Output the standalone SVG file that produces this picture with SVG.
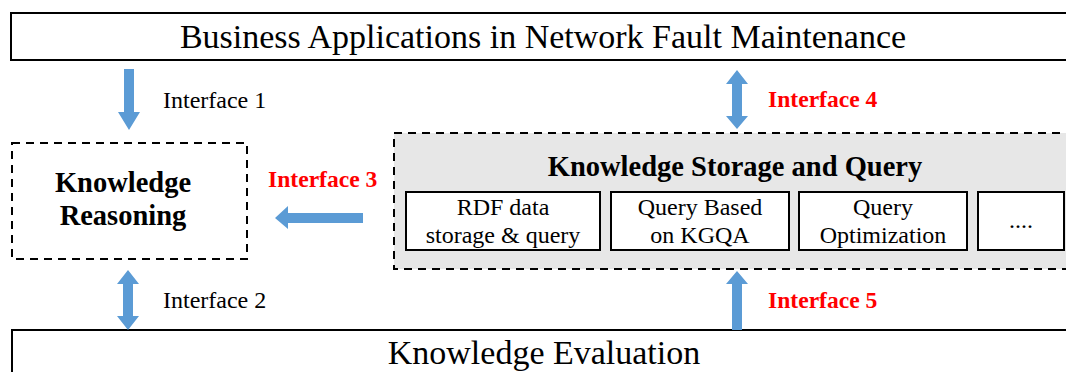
<svg xmlns="http://www.w3.org/2000/svg" width="1066" height="372" viewBox="0 0 1066 372" font-family="'Liberation Serif', 'Times New Roman', Tinos, 'DejaVu Serif', serif">
  <style>
    .layer { fill: #ffffff; stroke: #000000; stroke-width: 2; }
    .dashed { stroke: #000000; stroke-width: 2; stroke-dasharray: 8 6; }
    .sub { fill: #ffffff; stroke: #000000; stroke-width: 2; }
    .arrow { fill: #5b9bd5; stroke: none; }
    .big { font-size: 34px; text-anchor: middle; fill: #000000; }
    .bold-title { font-size: 28.5px; font-weight: bold; text-anchor: middle; fill: #000000; }
    .item { font-size: 24px; text-anchor: middle; fill: #000000; }
    .iface { font-size: 24px; fill: #000000; }
    .iface-red { font-size: 23.6px; font-weight: bold; fill: #ff0000; }
  </style>

  <!-- top layer: business applications -->
  <g id="business-applications">
    <rect class="layer" x="11" y="13" width="1070" height="47"/>
    <text class="big" x="543" y="48">Business Applications in Network Fault Maintenance</text>
  </g>

  <!-- reasoning module -->
  <g id="knowledge-reasoning">
    <rect class="dashed" fill="#ffffff" x="12" y="143" width="235" height="116"/>
    <text class="bold-title" x="123" y="192">Knowledge</text>
    <text class="bold-title" x="123" y="225">Reasoning</text>
  </g>

  <!-- storage and query module with its sub-components -->
  <g id="knowledge-storage-query">
    <rect class="dashed" fill="#e7e7e7" x="394" y="133" width="690" height="136"/>
    <text class="bold-title" x="735" y="176">Knowledge Storage and Query</text>
    <g id="rdf-storage">
      <rect class="sub" x="406" y="192" width="194" height="58"/>
      <text class="item" x="503" y="215">RDF data</text>
      <text class="item" x="503" y="243">storage &amp; query</text>
    </g>
    <g id="kgqa-query">
      <rect class="sub" x="611" y="192" width="178" height="58"/>
      <text class="item" x="700" y="215">Query Based</text>
      <text class="item" x="700" y="243">on KGQA</text>
    </g>
    <g id="query-optimization">
      <rect class="sub" x="799" y="192" width="168" height="58"/>
      <text class="item" x="883" y="215">Query</text>
      <text class="item" x="883" y="243">Optimization</text>
    </g>
    <g id="more-items">
      <rect class="sub" x="978" y="192" width="86" height="58"/>
      <text class="item" x="1021" y="228">....</text>
    </g>
  </g>

  <!-- bottom layer: evaluation -->
  <g id="knowledge-evaluation">
    <rect class="layer" x="12" y="330" width="1070" height="60"/>
    <text class="big" x="544" y="364">Knowledge Evaluation</text>
  </g>

  <!-- interface arrows -->
  <g id="connectors">
    <!-- Interface 1: applications down to reasoning -->
    <polygon class="arrow" points="124,69 134,69 134,112 140,112 129,130 118,112 124,112"/>
    <!-- Interface 2: reasoning <-> evaluation -->
    <polygon class="arrow" points="128,270 139,284 133,284 133,316 139,316 128,330 117,316 123,316 123,284 117,284"/>
    <!-- Interface 3: storage/query left to reasoning -->
    <polygon class="arrow" points="363,213 363,223 288,223 288,229 275,218 288,206 288,213"/>
    <!-- Interface 4: applications <-> storage/query -->
    <polygon class="arrow" points="737,70 748,84 742,84 742,116 748,116 737,129 726,116 732,116 732,84 726,84"/>
    <!-- Interface 5: evaluation up to storage/query -->
    <polygon class="arrow" points="737,271 748,284 742,284 742,330 732,330 732,284 726,284"/>
  </g>

  <g id="labels">
    <text class="iface" x="163" y="108">Interface 1</text>
    <text class="iface" x="163" y="308">Interface 2</text>
    <text class="iface-red" x="268" y="187">Interface 3</text>
    <text class="iface-red" x="768" y="107">Interface 4</text>
    <text class="iface-red" x="768" y="308">Interface 5</text>
  </g>
</svg>
